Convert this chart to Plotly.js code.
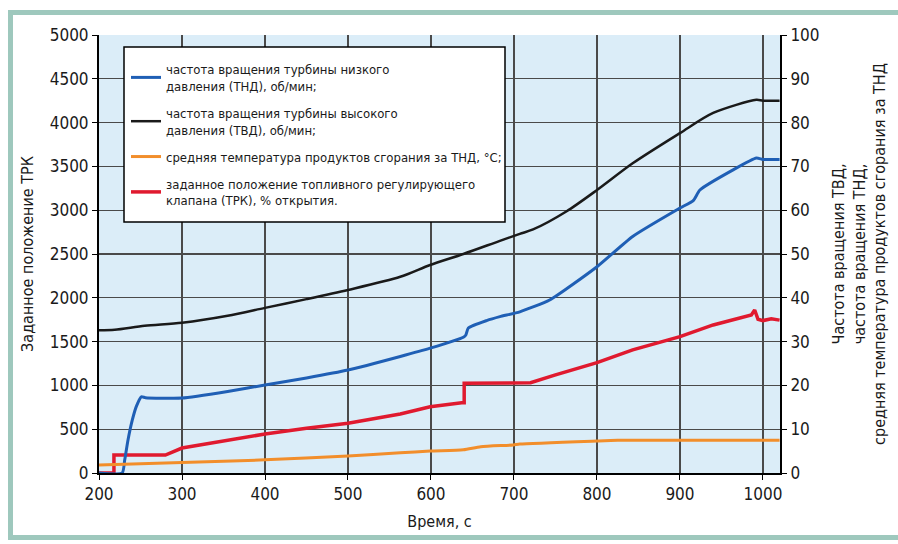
<!DOCTYPE html>
<html>
<head>
<meta charset="utf-8">
<script src="https://cdn.plot.ly/plotly-3.0.1.min.js"></script>
<style>
  html, body { margin: 0; padding: 0; background: #ffffff; }
  #wrap { position: relative; width: 898px; height: 544px; overflow: hidden; }
  #chart { position: absolute; left: 0; top: 0; width: 898px; height: 544px; }
  #frame { position: absolute; left: 8px; top: 10px; width: 900px; height: 530px;
           border-top: 5px solid #9ec8bd; border-left: 5px solid #9ec8bd; border-bottom: 5px solid #9ec8bd;
           box-sizing: border-box; pointer-events: none; }
</style>
</head>
<body>
<div id="wrap">
  <div id="chart"></div>
  <div id="frame"></div>
</div>
<script>
// Time axis, seconds
// Частота вращения ТНД (right axis units)
const tTND = [200, 228, 231, 235, 240, 245, 251, 256, 300, 355, 400, 450, 500, 563, 599, 639, 642, 645, 667, 683, 707, 743, 800, 843, 900, 916, 924, 964, 992, 1000, 1020];
const nTND = [0, 0, 3, 7.6, 12, 15.2, 17.4, 17.2, 17.1, 18.6, 20.1, 21.7, 23.5, 26.6, 28.5, 31.0, 31.5, 33.1, 34.8, 35.7, 36.8, 39.5, 47.1, 54.0, 60.5, 62.2, 64.6, 69.2, 71.9, 71.6, 71.6];

// Частота вращения ТВД (right axis units)
const tTVD = [200, 219, 255, 300, 355, 400, 450, 500, 563, 599, 639, 683, 707, 723, 763, 800, 843, 900, 940, 992, 1000, 1020];
const nTVD = [32.6, 32.7, 33.6, 34.3, 35.9, 37.7, 39.7, 41.8, 44.8, 47.5, 50.0, 53.0, 54.6, 55.6, 59.7, 64.6, 70.7, 77.6, 82.2, 85.2, 85.0, 85.0];

// Средняя температура продуктов сгорания за ТНД (right axis units)
const tTemp = [200, 300, 400, 500, 563, 599, 639, 660, 699, 707, 800, 825, 900, 1020];
const vTemp = [1.8, 2.4, 3.0, 3.9, 4.6, 5.0, 5.3, 6.0, 6.4, 6.6, 7.3, 7.45, 7.45, 7.45];

// Заданное положение ТРК (left axis units)
const tTRK = [200, 218, 218, 280, 300, 355, 400, 450, 500, 563, 599, 637, 640, 640, 707, 720, 750, 800, 843, 900, 940, 986, 990, 994, 1000, 1010, 1020];
const vTRK = [0, 0, 205, 205, 285, 377, 445, 512, 567, 674, 757, 803, 803, 1024, 1024, 1030, 1120, 1260, 1405, 1557, 1690, 1804, 1861, 1755, 1740, 1760, 1745];

const names = [
  'частота вращения турбины низкого<br>давления (ТНД), об/мин;',
  'частота вращения турбины высокого<br>давления (ТВД), об/мин;',
  'средняя температура продуктов сгорания за ТНД, °C;',
  'заданное положение топливного регулирующего<br>клапана (ТРК), % открытия.'
];

const FONT = '"Liberation Sans Narrow", "Arial Narrow", "DejaVu Sans Condensed", sans-serif';

const traces = [
  { x: tTND, y: nTND, yaxis: 'y2', name: names[0], legendgroup: 'a', mode: 'lines',
    line: { color: '#1f5fb5', width: 3, shape: 'spline', smoothing: 0.5 } },
  { x: tTVD, y: nTVD, yaxis: 'y2', name: names[1], legendgroup: 'b', mode: 'lines',
    line: { color: '#1a1a1a', width: 2.5, shape: 'spline', smoothing: 0.8 } },
  { x: tTemp, y: vTemp, yaxis: 'y2', name: names[2], legendgroup: 'c', mode: 'lines',
    line: { color: '#f28e2b', width: 3, shape: 'spline', smoothing: 0.6 } },
  { x: tTRK, y: vTRK, yaxis: 'y', name: names[3], legendgroup: 'd', mode: 'lines',
    line: { color: '#e01a2f', width: 3.5 } }
];

// legend box in pixel terms: left 124, right 505, top 47, bottom 222 ; plot area l=99, w=681, t=35, h=438
const layout = {
  width: 898, height: 544,
  margin: { l: 99, r: 118, t: 35, b: 71 },
  paper_bgcolor: 'rgba(0,0,0,0)',
  plot_bgcolor: '#dbedf8',
  font: { family: FONT, size: 17, color: '#1a1a1a' },
  showlegend: true,
  shapes: [{
    type: 'rect', xref: 'paper', yref: 'paper', layer: 'above',
    x0: (124 - 99) / 681, x1: (505 - 99) / 681,
    y0: 1 - (222 - 35) / 438, y1: 1 - (47 - 35) / 438,
    fillcolor: '#ffffff', line: { color: '#000000', width: 1.5 }
  }],
  legend: {
    x: (126 - 99) / 681, y: 1 - (54 - 35) / 438, xanchor: 'left', yanchor: 'top',
    bgcolor: 'rgba(0,0,0,0)', borderwidth: 0,
    font: { family: FONT, size: 13, color: '#1a1a1a' },
    tracegroupgap: 7, traceorder: 'grouped'
  },
  xaxis: {
    range: [200, 1020.5], dtick: 100, tick0: 0,
    showgrid: true, gridcolor: '#4a4a4a', gridwidth: 1.3,
    showline: true, linecolor: '#000', linewidth: 2,
    ticks: 'outside', ticklen: 5, tickcolor: '#000',
    zeroline: false,
    tickfont: { family: FONT, size: 17 },
    title: { text: 'Время, с', font: { family: FONT, size: 16 }, standoff: 12 }
  },
  yaxis: {
    range: [0, 5000], dtick: 500, tick0: 0,
    showgrid: true, gridcolor: '#4a4a4a', gridwidth: 1.3,
    showline: true, linecolor: '#000', linewidth: 2,
    ticks: 'outside', ticklen: 5, tickcolor: '#000',
    zeroline: false,
    tickfont: { family: FONT, size: 17 },
    title: { text: 'Заданное положение ТРК', font: { family: FONT, size: 16 }, standoff: 12 }
  },
  yaxis2: {
    range: [0, 100], dtick: 10, tick0: 0,
    overlaying: 'y', side: 'right',
    showgrid: false,
    showline: true, linecolor: '#000', linewidth: 2,
    ticks: 'outside', ticklen: 5, tickcolor: '#000',
    zeroline: false,
    tickfont: { family: FONT, size: 17 },
    title: { text: 'Частота вращения ТВД,<br>частота вращения ТНД,<br>средняя температура продуктов сгорания за ТНД',
             font: { family: FONT, size: 16 }, standoff: 14 }
  }
};

Plotly.newPlot('chart', traces, layout, { displayModeBar: false, staticPlot: true });
</script>
</body>
</html>
